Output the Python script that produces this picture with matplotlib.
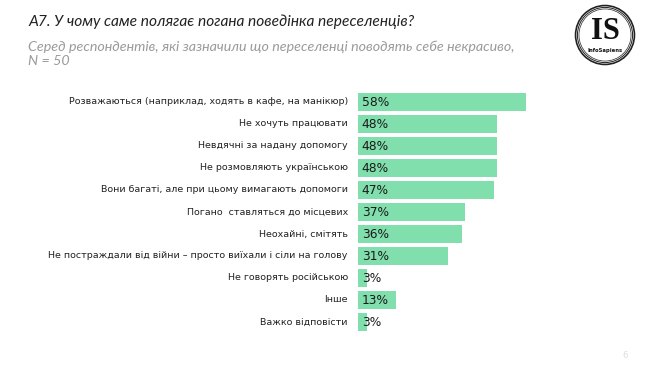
import matplotlib
matplotlib.use("Agg")
import matplotlib.pyplot as plt
from matplotlib.patches import Circle

categories = [
    "Розважаються (наприклад, ходять в кафе, на манікюр)",
    "Не хочуть працювати",
    "Невдячні за надану допомогу",
    "Не розмовляють українською",
    "Вони багаті, але при цьому вимагають допомоги",
    "Погано  ставляться до місцевих",
    "Неохайні, смітять",
    "Не постраждали від війни – просто виїхали і сіли на голову",
    "Не говорять російською",
    "Інше",
    "Важко відповісти",
]
values = [58, 48, 48, 48, 47, 37, 36, 31, 3, 13, 3]

title = "А7. У чому саме полягає погана поведінка переселенців?"
subtitle = ["Серед респондентів, які зазначили що переселенці поводять себе некрасиво,",
            "N = 50"]

W, H = 650, 366
fig = plt.figure(figsize=(W / 100, H / 100), dpi=100)
fig.patch.set_facecolor("white")

# bar area, pixel based
ax = fig.add_axes([358 / W, 1 - 333 / H, 290 / W, 242 / H])
ypos = list(range(len(categories)))
ax.barh(ypos, values, height=0.85, color="#80dfad")
ax.set_xlim(0, 100)
ax.set_ylim(len(categories) - 0.5, -0.5)
ax.axis("off")

for y, cat, v in zip(ypos, categories, values):
    ax.text(-3.5, y, cat, ha="right", va="center", fontsize=6.8, color="#222222")
    ax.text(1.3, y, f"{v}%", ha="left", va="center", fontsize=8.8, color="#1a1a1a")

fig.text(28 / W, 1 - 22 / H, title, ha="left", va="center", fontsize=11.2,
         style="italic", color="#222222", family="Lato")
fig.text(28 / W, 1 - 47 / H, subtitle[0], ha="left", va="center", fontsize=10.3,
         style="italic", color="#9a9a9a", family="Lato")
fig.text(28 / W, 1 - 61 / H, subtitle[1], ha="left", va="center", fontsize=10.3,
         style="italic", color="#9a9a9a", family="Lato")

# logo
lax = fig.add_axes([574 / W, 1 - 66 / H, 62 / W, 62 / H])
lax.set_xlim(-1, 1)
lax.set_ylim(-1, 1)
lax.set_aspect("equal")
lax.axis("off")
for r, lw in [(0.95, 1.2), (0.89, 0.7), (0.84, 0.5)]:
    lax.add_patch(Circle((0, 0), r, fill=False, lw=lw, color="#222222"))
lax.text(0, 0.1, "IS", ha="center", va="center", fontsize=22, family="Liberation Serif",
         fontweight="bold", color="#111111")
lax.text(0, -0.5, "InfoSapiens", ha="center", va="center", fontsize=3.8,
         fontweight="bold", color="#111111")

fig.text(625 / W, 1 - 356 / H, "6", ha="center", va="center", fontsize=6, color="#dddddd")

fig.savefig("out.png", dpi=100)
